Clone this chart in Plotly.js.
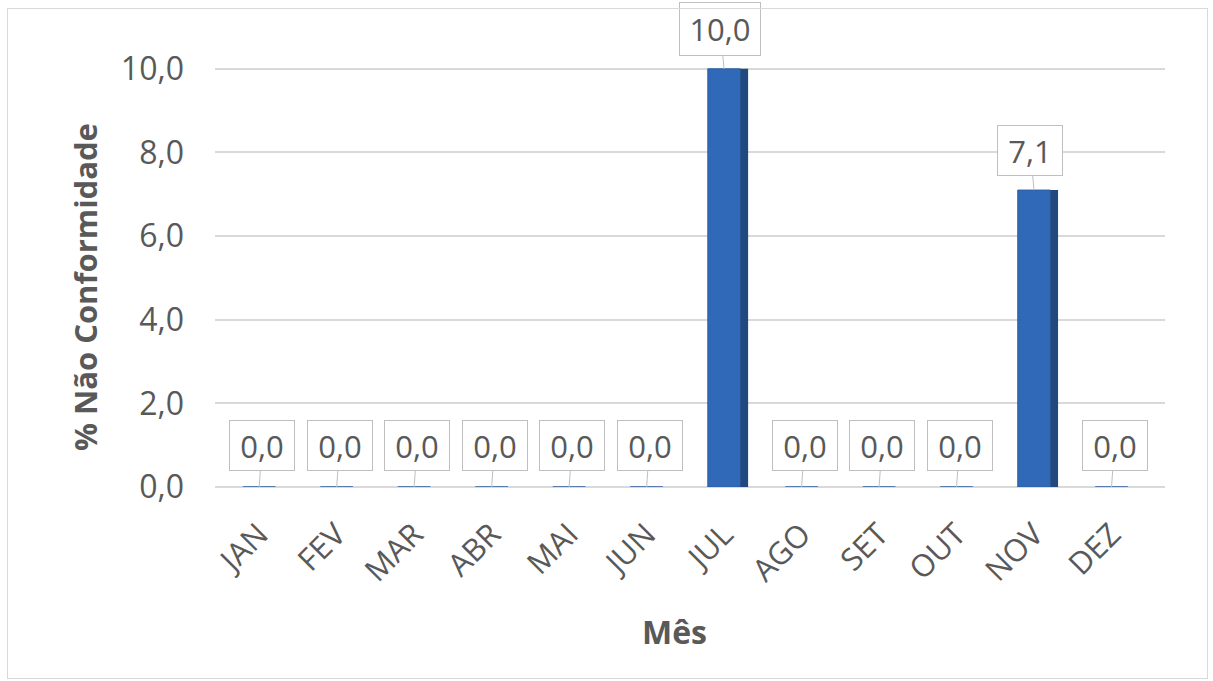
<!DOCTYPE html>
<html>
<head>
<meta charset="utf-8">
<script src="https://cdn.plot.ly/plotly-3.0.1.min.js"></script>
<style>
  html, body { margin: 0; padding: 0; background: #fff; }
  #wrap { position: relative; width: 1213px; height: 681px; }
  #chart { width: 1213px; height: 681px; }
  #frame { position: absolute; left: 7px; top: 8px; width: 1199px; height: 669px;
           border: 1px solid #D9D9D9; pointer-events: none; }
</style>
</head>
<body>
<div id="wrap">
  <div id="chart"></div>
  <div id="frame"></div>
</div>
<script>
const months = ["JAN","FEV","MAR","ABR","MAI","JUN","JUL","AGO","SET","OUT","NOV","DEZ"];
const naoConformidade = [0.0, 0.0, 0.0, 0.0, 0.0, 0.0, 10.0, 0.0, 0.0, 0.0, 7.1, 0.0];
const yTicks = [0, 2, 4, 6, 8, 10];
const yTickLabels = ["0,0", "2,0", "4,0", "6,0", "8,0", "10,0"];
const xTitle = "Mês";
const yTitle = "% Não Conformidade";

const fmt = v => v.toFixed(1).replace(".", ",");
const textColor = "#595959";
const fontFamily = "'Open Sans', 'Noto Sans', sans-serif";

const front = {
  type: "bar", x: months, y: naoConformidade,
  width: 0.42, offset: -0.21,
  marker: { color: "#3169B9", line: { color: "#2A5CA3", width: 1 } },
  hoverinfo: "skip", showlegend: false
};
const side = {
  type: "bar", x: months, y: naoConformidade,
  width: 0.1, offset: 0.21,
  marker: { color: "#22497F", line: { width: 0 } },
  hoverinfo: "skip", showlegend: false
};

const labelAnnotations = months.map((m, i) => {
  const v = naoConformidade[i];
  const big = v >= 10;
  return {
    x: m, y: v, xref: "x", yref: "y",
    text: fmt(v),
    showarrow: true, arrowhead: 0, arrowwidth: 1, arrowcolor: "#BFBFBF",
    ax: v > 0 ? -4 : 3, ay: v > 0 ? -40 : -42,
    width: big ? 74 : 58, height: big ? 46 : 43,
    bgcolor: "#FFFFFF", bordercolor: "#BFBFBF", borderwidth: 1, borderpad: 3,
    font: { family: fontFamily, size: 31, color: textColor }
  };
});

const titleAnnotations = [
  { text: "<b>" + yTitle + "</b>", xref: "paper", yref: "paper",
    x: -0.1368, y: 0.4577, xanchor: "center", yanchor: "middle",
    textangle: -90, showarrow: false,
    font: { family: fontFamily, size: 31, color: textColor } },
  { text: "<b>" + xTitle + "</b>", xref: "paper", yref: "paper",
    x: 0.4842, y: -0.3318, xanchor: "center", yanchor: "middle",
    showarrow: false,
    font: { family: fontFamily, size: 32, color: textColor } }
];

const layout = {
  width: 1213, height: 681,
  margin: { l: 215, r: 48, t: 50, b: 194 },
  paper_bgcolor: "#FFFFFF", plot_bgcolor: "#FFFFFF",
  barmode: "overlay",
  font: { family: fontFamily, color: textColor },
  xaxis: {
    type: "category", range: [-0.57, 11.69],
    tickangle: -45, ticks: "", showgrid: false, zeroline: false, showline: false,
    ticklabelstandoff: 22,
    tickfont: { family: fontFamily, size: 31, color: textColor }
  },
  yaxis: {
    range: [0, 10.45], tickvals: yTicks, ticktext: yTickLabels,
    showgrid: true, gridcolor: "#D9D9D9", gridwidth: 2,
    zeroline: true, zerolinecolor: "#D9D9D9", zerolinewidth: 2,
    showline: false, ticks: "",
    ticklabelstandoff: 30,
    tickfont: { family: fontFamily, size: 32, color: textColor }
  },
  annotations: labelAnnotations.concat(titleAnnotations)
};

Plotly.newPlot("chart", [front, side], layout, { staticPlot: true, displayModeBar: false });
</script>
</body>
</html>
